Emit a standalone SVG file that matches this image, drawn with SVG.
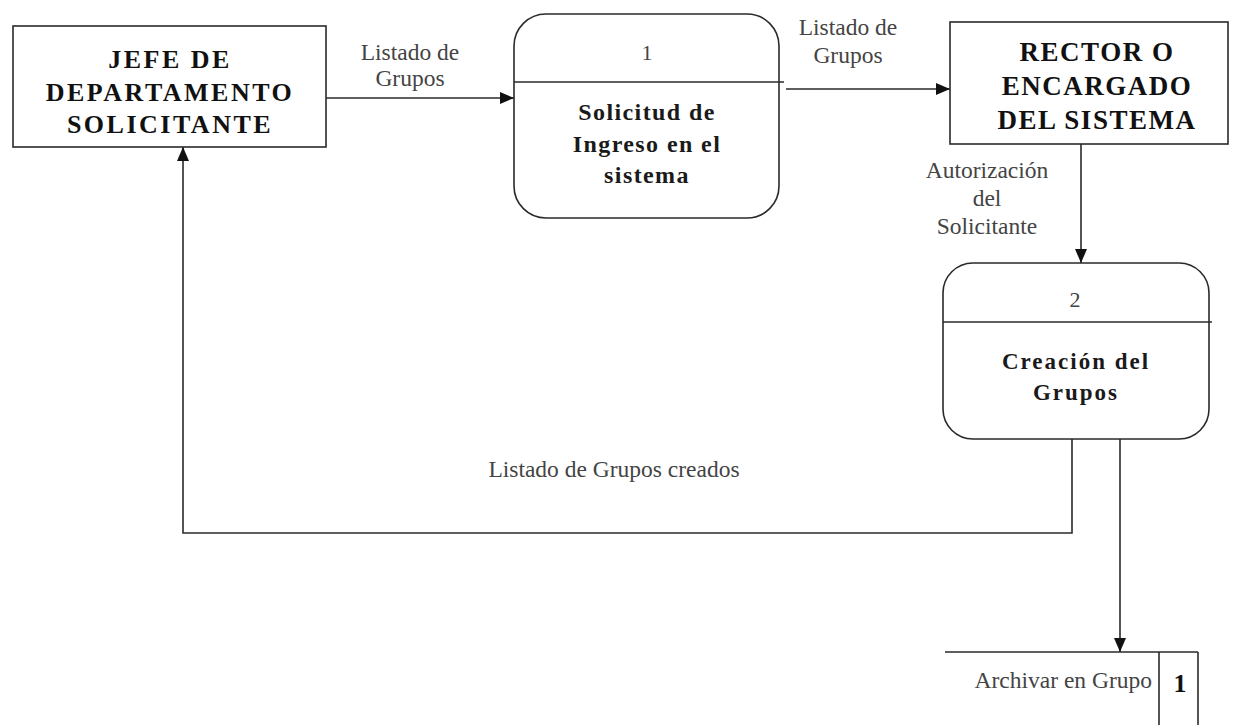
<svg xmlns="http://www.w3.org/2000/svg" width="1233" height="725" viewBox="0 0 1233 725">
<style>
.box{fill:#fff;stroke:#2a2a2a;stroke-width:1.6}
.ln{fill:none;stroke:#2a2a2a;stroke-width:1.6}
.ent{font-family:"Liberation Serif","Times New Roman",serif;font-weight:bold;font-size:26px;fill:#111;text-anchor:middle;letter-spacing:1.5px}
.proc{font-family:"Liberation Serif","Times New Roman",serif;font-weight:bold;font-size:24px;fill:#1a1a1a;text-anchor:middle;letter-spacing:1.4px}
.num{font-family:"Liberation Serif","Times New Roman",serif;font-size:22px;fill:#444;text-anchor:middle}
.lbl{font-family:"Liberation Serif","Times New Roman",serif;font-size:23.5px;fill:#444;text-anchor:middle}
</style>
<defs>
<marker id="ah" markerUnits="userSpaceOnUse" markerWidth="14" markerHeight="12" refX="14" refY="6" orient="auto">
<path d="M0,0 L14,6 L0,12 Z" fill="#111"/>
</marker>
</defs>
<rect width="1233" height="725" fill="#fff"/>

<g id="connectors">
<line class="ln" x1="326" y1="98" x2="514" y2="98" marker-end="url(#ah)"/>
<line class="ln" x1="786" y1="89" x2="950" y2="89" marker-end="url(#ah)"/>
<line class="ln" x1="1081" y1="144" x2="1081" y2="263" marker-end="url(#ah)"/>
<polyline class="ln" points="1072,438 1072,533 183,533 183,147" marker-end="url(#ah)"/>
<line class="ln" x1="1120" y1="438" x2="1120" y2="652" marker-end="url(#ah)"/>
<text class="lbl" x="410" y="60">Listado de</text>
<text class="lbl" x="410" y="86">Grupos</text>
<text class="lbl" x="848" y="35">Listado de</text>
<text class="lbl" x="848" y="63">Grupos</text>
<text class="lbl" x="987" y="178">Autorización</text>
<text class="lbl" x="987" y="206">del</text>
<text class="lbl" x="987" y="234">Solicitante</text>
<text class="lbl" x="614" y="477">Listado de Grupos creados</text>
</g>

<g id="jefe">
<rect class="box" x="13" y="26" width="313" height="121"/>
<text class="ent" x="170" y="68" style="letter-spacing:2.5px">JEFE DE</text>
<text class="ent" x="170" y="101" style="letter-spacing:2.5px">DEPARTAMENTO</text>
<text class="ent" x="170" y="133" style="letter-spacing:2.5px">SOLICITANTE</text>
</g>

<g id="proc1">
<rect class="box" x="514" y="14" width="265" height="204" rx="32" ry="32"/>
<line class="ln" x1="514" y1="82" x2="784" y2="82"/>
<text class="num" x="647" y="60">1</text>
<text class="proc" x="647" y="120">Solicitud de</text>
<text class="proc" x="647" y="152">Ingreso en el</text>
<text class="proc" x="647" y="183">sistema</text>
</g>

<g id="rector">
<rect class="box" x="950" y="22" width="278" height="122"/>
<text class="ent" x="1097" y="61" style="font-size:27px">RECTOR O</text>
<text class="ent" x="1097" y="95" style="font-size:27px">ENCARGADO</text>
<text class="ent" x="1097" y="129" style="font-size:27px">DEL SISTEMA</text>
</g>

<g id="proc2">
<rect class="box" x="943" y="263" width="266" height="176" rx="30" ry="30"/>
<line class="ln" x1="943" y1="322" x2="1212" y2="322"/>
<text class="num" x="1075" y="307">2</text>
<text class="proc" x="1076" y="369" style="font-size:23px;letter-spacing:2px">Creación del</text>
<text class="proc" x="1076" y="400" style="font-size:23px;letter-spacing:2px">Grupos</text>
</g>

<g id="store">
<line class="ln" x1="945" y1="652" x2="1198" y2="652"/>
<line class="ln" x1="1159" y1="652" x2="1159" y2="725"/>
<line class="ln" x1="1198" y1="652" x2="1198" y2="725"/>
<text class="lbl" x="1152" y="688" style="text-anchor:end">Archivar en Grupo</text>
<text class="ent" x="1180" y="692" style="letter-spacing:0">1</text>
</g>
</svg>
